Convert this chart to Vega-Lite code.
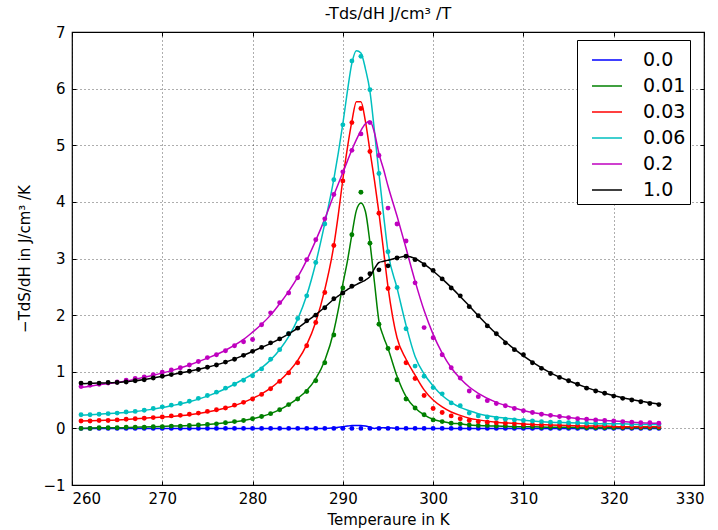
{
"$schema": "https://vega.github.io/schema/vega-lite/v6.json",
"width": 632, "height": 453,
"autosize": {"type": "none"},
"padding": {"left": 72, "top": 32, "right": 14, "bottom": 45},
"config": {
  "font": "DejaVu Sans",
  "view": {"stroke": "#000", "strokeWidth": 1.2},
  "axis": {"grid": true, "gridColor": "#000", "gridDash": [1, 3], "gridWidth": 0.8, "gridOpacity": 0.8, "domain": false, "tickColor": "#000", "tickSize": -4, "labelColor": "#000", "labelFontSize": 15, "titleFontSize": 15, "titleFontWeight": "normal", "titleColor": "#000", "labelFont": "DejaVu Sans", "titleFont": "DejaVu Sans"}
},
"title": {"text": "-Tds/dH J/cm³ /T", "fontSize": 16, "fontWeight": "normal", "offset": 3, "anchor": "middle", "font": "DejaVu Sans", "color": "#000"},
"datasets": {
"pts": [
{"T":261,"a":0,"b":0.00,"c":0.13,"d":0.24,"e":0.74,"f":0.80},
{"T":262,"a":0,"b":0.00,"c":0.13,"d":0.24,"e":0.76,"f":0.80},
{"T":263,"a":0,"b":0.01,"c":0.14,"d":0.25,"e":0.78,"f":0.80},
{"T":264,"a":0,"b":0.01,"c":0.14,"d":0.26,"e":0.80,"f":0.81},
{"T":265,"a":0,"b":0.01,"c":0.15,"d":0.27,"e":0.82,"f":0.81},
{"T":266,"a":0,"b":0.02,"c":0.16,"d":0.29,"e":0.85,"f":0.82},
{"T":267,"a":0,"b":0.02,"c":0.17,"d":0.30,"e":0.88,"f":0.84},
{"T":268,"a":0,"b":0.02,"c":0.18,"d":0.32,"e":0.91,"f":0.86},
{"T":269,"a":0,"b":0.03,"c":0.19,"d":0.35,"e":0.95,"f":0.89},
{"T":270,"a":0,"b":0.03,"c":0.20,"d":0.38,"e":0.99,"f":0.92},
{"T":271,"a":0,"b":0.04,"c":0.22,"d":0.41,"e":1.03,"f":0.95},
{"T":272,"a":0,"b":0.04,"c":0.23,"d":0.44,"e":1.07,"f":0.98},
{"T":273,"a":0,"b":0.05,"c":0.25,"d":0.48,"e":1.12,"f":1.01},
{"T":274,"a":0,"b":0.06,"c":0.27,"d":0.53,"e":1.18,"f":1.04},
{"T":275,"a":0,"b":0.07,"c":0.30,"d":0.58,"e":1.25,"f":1.08},
{"T":276,"a":0,"b":0.08,"c":0.33,"d":0.64,"e":1.30,"f":1.12},
{"T":277,"a":0,"b":0.10,"c":0.36,"d":0.71,"e":1.37,"f":1.17},
{"T":278,"a":0,"b":0.12,"c":0.41,"d":0.78,"e":1.46,"f":1.22},
{"T":279,"a":0,"b":0.14,"c":0.46,"d":0.85,"e":1.53,"f":1.29},
{"T":280,"a":0,"b":0.17,"c":0.52,"d":0.93,"e":1.57,"f":1.36},
{"T":281,"a":0,"b":0.21,"c":0.60,"d":1.05,"e":1.83,"f":1.43},
{"T":282,"a":0,"b":0.26,"c":0.70,"d":1.22,"e":2.04,"f":1.51},
{"T":283,"a":0,"b":0.33,"c":0.83,"d":1.39,"e":2.22,"f":1.58},
{"T":284,"a":0,"b":0.42,"c":0.98,"d":1.67,"e":2.39,"f":1.67},
{"T":285,"a":0,"b":0.52,"c":1.16,"d":1.94,"e":2.66,"f":1.77},
{"T":286,"a":0,"b":0.65,"c":1.46,"d":2.34,"e":2.98,"f":1.90},
{"T":287,"a":0,"b":0.84,"c":1.87,"d":2.93,"e":3.33,"f":2.00},
{"T":288,"a":0,"b":1.16,"c":2.40,"d":3.61,"e":3.70,"f":2.13},
{"T":289,"a":0,"b":1.65,"c":3.23,"d":4.39,"e":4.13,"f":2.29},
{"T":290,"a":0,"b":2.48,"c":4.37,"d":5.36,"e":4.53,"f":2.39},
{"T":291,"a":0,"b":3.42,"c":5.40,"d":6.49,"e":4.91,"f":2.51},
{"T":292,"a":0,"b":4.17,"c":5.65,"d":6.57,"e":5.20,"f":2.64},
{"T":293,"a":0,"b":3.27,"c":4.89,"d":5.98,"e":5.40,"f":2.73},
{"T":294,"a":0,"b":1.84,"c":3.80,"d":4.50,"e":4.82,"f":2.80},
{"T":295,"a":0,"b":1.41,"c":2.47,"d":3.12,"e":3.89,"f":2.87},
{"T":296,"a":0,"b":0.86,"c":1.42,"d":2.49,"e":3.61,"f":3.01},
{"T":297,"a":0,"b":0.52,"c":1.16,"d":1.76,"e":3.31,"f":3.04},
{"T":298,"a":0,"b":0.36,"c":0.88,"d":1.10,"e":2.57,"f":2.98},
{"T":299,"a":0,"b":0.24,"c":0.58,"d":0.92,"e":1.78,"f":2.89},
{"T":300,"a":0,"b":0.15,"c":0.35,"d":0.72,"e":1.60,"f":2.79},
{"T":301,"a":0,"b":0.12,"c":0.28,"d":0.61,"e":1.30,"f":2.64},
{"T":302,"a":0,"b":0.09,"c":0.22,"d":0.45,"e":1.07,"f":2.48},
{"T":303,"a":0,"b":0.08,"c":0.17,"d":0.40,"e":0.89,"f":2.34},
{"T":304,"a":0,"b":0.06,"c":0.14,"d":0.27,"e":0.66,"f":2.15},
{"T":305,"a":0,"b":0.05,"c":0.12,"d":0.22,"e":0.56,"f":1.99},
{"T":306,"a":0,"b":0.05,"c":0.11,"d":0.20,"e":0.49,"f":1.81},
{"T":307,"a":0,"b":0.04,"c":0.10,"d":0.18,"e":0.44,"f":1.67},
{"T":308,"a":0,"b":0.04,"c":0.09,"d":0.16,"e":0.40,"f":1.51},
{"T":309,"a":0,"b":0.03,"c":0.08,"d":0.15,"e":0.35,"f":1.39},
{"T":310,"a":0,"b":0.03,"c":0.07,"d":0.14,"e":0.31,"f":1.30},
{"T":311,"a":0,"b":0.03,"c":0.07,"d":0.13,"e":0.28,"f":1.16},
{"T":312,"a":0,"b":0.02,"c":0.06,"d":0.12,"e":0.25,"f":1.06},
{"T":313,"a":0,"b":0.02,"c":0.06,"d":0.11,"e":0.23,"f":0.97},
{"T":314,"a":0,"b":0.02,"c":0.05,"d":0.11,"e":0.21,"f":0.90},
{"T":315,"a":0,"b":0.02,"c":0.05,"d":0.10,"e":0.19,"f":0.84},
{"T":316,"a":0,"b":0.02,"c":0.05,"d":0.10,"e":0.17,"f":0.78},
{"T":317,"a":0,"b":0.01,"c":0.04,"d":0.09,"e":0.16,"f":0.71},
{"T":318,"a":0,"b":0.01,"c":0.04,"d":0.09,"e":0.15,"f":0.66},
{"T":319,"a":0,"b":0.01,"c":0.04,"d":0.08,"e":0.14,"f":0.62},
{"T":320,"a":0,"b":0.01,"c":0.04,"d":0.08,"e":0.13,"f":0.57},
{"T":321,"a":0,"b":0.01,"c":0.03,"d":0.08,"e":0.12,"f":0.53},
{"T":322,"a":0,"b":0.01,"c":0.03,"d":0.07,"e":0.11,"f":0.50},
{"T":323,"a":0,"b":0.01,"c":0.03,"d":0.07,"e":0.10,"f":0.47},
{"T":324,"a":0,"b":0.01,"c":0.03,"d":0.07,"e":0.10,"f":0.44},
{"T":325,"a":0,"b":0.01,"c":0.03,"d":0.07,"e":0.09,"f":0.42}
],
"fit": [
{"T":261,"a":0,"b":0.00,"c":0.13,"d":0.23,"e":0.72,"f":0.79},
{"T":263,"a":0,"b":0.01,"c":0.14,"d":0.25,"e":0.77,"f":0.80},
{"T":265,"a":0,"b":0.01,"c":0.15,"d":0.27,"e":0.81,"f":0.81},
{"T":267,"a":0,"b":0.02,"c":0.17,"d":0.30,"e":0.87,"f":0.84},
{"T":269,"a":0,"b":0.03,"c":0.19,"d":0.34,"e":0.94,"f":0.89},
{"T":271,"a":0,"b":0.04,"c":0.21,"d":0.40,"e":1.02,"f":0.95},
{"T":273,"a":0,"b":0.05,"c":0.24,"d":0.47,"e":1.12,"f":1.01},
{"T":275,"a":0,"b":0.07,"c":0.29,"d":0.57,"e":1.24,"f":1.08},
{"T":277,"a":0,"b":0.10,"c":0.36,"d":0.70,"e":1.38,"f":1.17},
{"T":279,"a":0,"b":0.14,"c":0.46,"d":0.87,"e":1.57,"f":1.29},
{"T":280,"a":0,"b":0.17,"c":0.53,"d":0.96,"e":1.70,"f":1.36},
{"T":281,"a":0,"b":0.21,"c":0.61,"d":1.07,"e":1.84,"f":1.43},
{"T":282,"a":0,"b":0.26,"c":0.71,"d":1.21,"e":2.00,"f":1.50},
{"T":283,"a":0,"b":0.33,"c":0.84,"d":1.39,"e":2.20,"f":1.58},
{"T":284,"a":0,"b":0.42,"c":1.00,"d":1.62,"e":2.42,"f":1.67},
{"T":285,"a":0,"b":0.53,"c":1.20,"d":1.93,"e":2.67,"f":1.77},
{"T":286,"a":0,"b":0.67,"c":1.48,"d":2.35,"e":2.97,"f":1.89},
{"T":287,"a":0,"b":0.88,"c":1.88,"d":2.92,"e":3.32,"f":2.01},
{"T":288,"a":0,"b":1.20,"c":2.45,"d":3.62,"e":3.70,"f":2.14},
{"T":289,"a":0.01,"b":1.72,"c":3.23,"d":4.40,"e":4.12,"f":2.28},
{"T":289.5,"a":0.02,"b":2.10,"c":3.78,"d":4.87,"e":4.32,"f":2.34},
{"T":290,"a":0.03,"b":2.55,"c":4.40,"d":5.38,"e":4.52,"f":2.40},
{"T":290.5,"a":0.04,"b":2.95,"c":4.95,"d":5.95,"e":4.72,"f":2.45},
{"T":291,"a":0.05,"b":3.42,"c":5.42,"d":6.45,"e":4.92,"f":2.50},
{"T":291.5,"a":0.05,"b":3.85,"c":5.77,"d":6.67,"e":5.10,"f":2.54},
{"T":292,"a":0.05,"b":3.98,"c":5.77,"d":6.63,"e":5.26,"f":2.58},
{"T":292.5,"a":0.04,"b":3.83,"c":5.42,"d":6.35,"e":5.38,"f":2.62},
{"T":293,"a":0.02,"b":3.28,"c":4.90,"d":5.95,"e":5.43,"f":2.68},
{"T":293.5,"a":0.00,"b":2.58,"c":4.38,"d":5.25,"e":5.22,"f":2.82},
{"T":294,"a":0.01,"b":1.89,"c":3.80,"d":4.50,"e":4.85,"f":2.93},
{"T":294.5,"a":0.01,"b":1.62,"c":3.15,"d":3.78,"e":4.58,"f":2.95},
{"T":295,"a":0.01,"b":1.41,"c":2.50,"d":3.12,"e":4.28,"f":2.97},
{"T":296,"a":0,"b":0.92,"c":1.60,"d":2.48,"e":3.75,"f":3.01},
{"T":297,"a":0,"b":0.56,"c":1.22,"d":1.82,"e":3.18,"f":3.04},
{"T":298,"a":0,"b":0.36,"c":0.94,"d":1.27,"e":2.60,"f":3.00},
{"T":299,"a":0,"b":0.24,"c":0.68,"d":0.96,"e":2.08,"f":2.90},
{"T":300,"a":0,"b":0.16,"c":0.50,"d":0.75,"e":1.66,"f":2.78},
{"T":301,"a":0,"b":0.12,"c":0.38,"d":0.58,"e":1.33,"f":2.64},
{"T":302,"a":0,"b":0.09,"c":0.29,"d":0.46,"e":1.07,"f":2.49},
{"T":303,"a":0,"b":0.08,"c":0.23,"d":0.37,"e":0.88,"f":2.33},
{"T":304,"a":0,"b":0.06,"c":0.18,"d":0.31,"e":0.73,"f":2.16},
{"T":305,"a":0,"b":0.05,"c":0.15,"d":0.26,"e":0.62,"f":1.99},
{"T":307,"a":0,"b":0.04,"c":0.11,"d":0.20,"e":0.46,"f":1.67},
{"T":309,"a":0,"b":0.03,"c":0.09,"d":0.16,"e":0.36,"f":1.40},
{"T":311,"a":0,"b":0.03,"c":0.07,"d":0.13,"e":0.28,"f":1.17},
{"T":313,"a":0,"b":0.02,"c":0.06,"d":0.11,"e":0.23,"f":0.98},
{"T":315,"a":0,"b":0.02,"c":0.05,"d":0.10,"e":0.19,"f":0.84},
{"T":317,"a":0,"b":0.01,"c":0.04,"d":0.09,"e":0.16,"f":0.72},
{"T":319,"a":0,"b":0.01,"c":0.04,"d":0.08,"e":0.14,"f":0.62},
{"T":321,"a":0,"b":0.01,"c":0.03,"d":0.08,"e":0.12,"f":0.54},
{"T":323,"a":0,"b":0.01,"c":0.03,"d":0.07,"e":0.10,"f":0.48},
{"T":325,"a":0,"b":0.01,"c":0.03,"d":0.07,"e":0.09,"f":0.43}
]
},
"layer": [
{
  "data": {"name": "fit"},
  "transform": [{"fold": ["a", "b", "c", "d", "e", "f"], "as": ["s", "v"]}],
  "mark": {"type": "line", "strokeWidth": 1.5, "interpolate": "monotone", "clip": true},
  "encoding": {
    "x": {"field": "T", "type": "quantitative", "scale": {"domain": [260, 330], "nice": false, "zero": false},
      "axis": {"values": [260, 270, 280, 290, 300, 310, 320, 330], "format": "d", "labelPadding": 10, "title": "Temperaure in K", "titlePadding": 6}},
    "y": {"field": "v", "type": "quantitative", "scale": {"domain": [-1, 7], "nice": false, "zero": false},
      "axis": {"values": [-1, 0, 1, 2, 3, 4, 5, 6, 7], "labelPadding": 11, "title": "−TdS/dH in J/cm³ /K", "titlePadding": 10}},
    "color": {"field": "s", "type": "nominal",
      "scale": {"domain": ["a", "b", "c", "d", "e", "f"], "range": ["#0000ff", "#008000", "#ff0000", "#00bfbf", "#bf00bf", "#000000"]},
      "legend": {"orient": "none", "legendX": 505, "legendY": 8, "title": null, "symbolType": "stroke", "symbolSize": 900, "symbolStrokeWidth": 1.5, "symbolOffset": 10,
        "labelFontSize": 19, "labelColor": "#000", "labelOffset": 20, "rowPadding": -2, "padding": 4, "strokeColor": "#000", "fillColor": "#fff",
        "labelExpr": "(datum.label == 'a' ? '0.0' : datum.label == 'b' ? '0.01' : datum.label == 'c' ? '0.03' : datum.label == 'd' ? '0.06' : datum.label == 'e' ? '0.2' : '1.0') + '  '"}}
  }
},
{
  "data": {"name": "pts"},
  "transform": [{"fold": ["a", "b", "c", "d", "e", "f"], "as": ["s", "v"]}],
  "mark": {"type": "circle", "size": 24, "opacity": 1, "clip": true},
  "encoding": {
    "x": {"field": "T", "type": "quantitative", "axis": {"orient": "top", "values": [260, 270, 280, 290, 300, 310, 320, 330], "labels": false, "grid": false, "title": null}},
    "y": {"field": "v", "type": "quantitative", "axis": {"orient": "right", "values": [-1, 0, 1, 2, 3, 4, 5, 6, 7], "labels": false, "grid": false, "title": null}},
    "color": {"field": "s", "type": "nominal"}
  }
}
],
"resolve": {"axis": {"x": "independent", "y": "independent"}}
}
